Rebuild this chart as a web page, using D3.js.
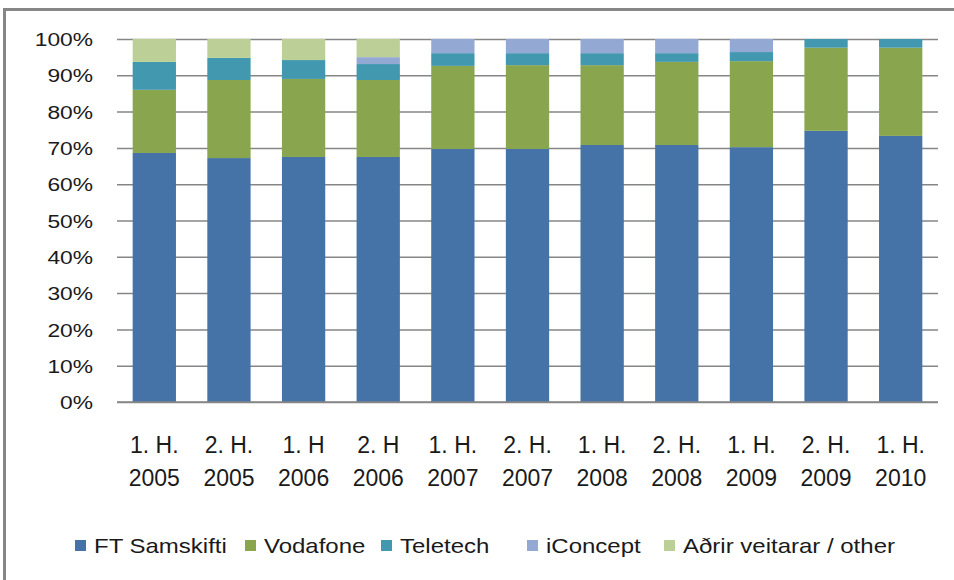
<!DOCTYPE html>
<html>
<head>
<meta charset="utf-8">
<script src="https://cdn.jsdelivr.net/npm/d3@7"></script>
<style>
  body { margin: 0; background: #fff; }
  text { font-family: "Liberation Sans", Arial, sans-serif; fill: #1a1a1a; }
</style>
</head>
<body>
<div class="chart"></div>
<script>
// periods (two-line labels)
const periods = ["1. H.|2005", "2. H.|2005", "1. H|2006", "2. H|2006", "1. H.|2007", "2. H.|2007",
                 "1. H.|2008", "2. H.|2008", "1. H.|2009", "2. H.|2009", "1. H.|2010"];

const seriesNames = ["FT Samskifti", "Vodafone", "Teletech", "iConcept", "Aðrir veitarar / other"];

// shares in %
const ftSamskifti = [68.6, 67.2, 67.5, 67.5, 69.7, 69.7, 70.8, 70.8, 70.2, 74.7, 73.3];
const vodafone    = [17.4, 21.5, 21.5, 21.2, 22.9, 23.1, 22.0, 22.9, 23.7, 22.9, 24.3];
const teletech    = [ 7.7,  6.1,  5.2,  4.4,  3.5,  3.3,  3.3,  2.4,  2.5,  2.4,  2.4];
const iConcept    = [ 0.0,  0.0,  0.0,  1.9,  3.9,  3.9,  3.9,  3.9,  3.6,  0.0,  0.0];
const other       = [ 6.3,  5.2,  5.8,  5.0,  0.0,  0.0,  0.0,  0.0,  0.0,  0.0,  0.0];

const yTicks = [0, 10, 20, 30, 40, 50, 60, 70, 80, 90, 100];

const colors = ["#4572a7", "#89a54e", "#4198af", "#93a9d4", "#bbcf97"];

const W = 954, H = 580;
const margin = {top: 39, left: 117, right: 16, bottom: 178};
const width = W - margin.left - margin.right,
      height = H - margin.top - margin.bottom;

const rows = periods.map((p, i) => ({
  period: p,
  s0: ftSamskifti[i], s1: vodafone[i], s2: teletech[i], s3: iConcept[i], s4: other[i]
}));

const svg = d3.select(".chart").append("svg")
  .attr("width", W)
  .attr("height", H);

// outer frame
svg.append("rect")
  .attr("x", 4.5).attr("y", 9.5)
  .attr("width", W + 20).attr("height", H + 20)
  .attr("fill", "none")
  .attr("stroke", "#868686")
  .attr("stroke-width", 3);

const g = svg.append("g")
  .attr("transform", "translate(" + margin.left + "," + margin.top + ")");

const xScale = d3.scaleBand()
  .domain(periods)
  .range([0, width])
  .paddingInner(0.42)
  .paddingOuter(0.21);

const yScale = d3.scaleLinear()
  .domain([0, 100])
  .range([height, 0]);

// gridlines + left ticks
const yAxis = d3.axisLeft(yScale)
  .tickValues(yTicks)
  .tickSize(-width)
  .tickFormat(d => d + "%");

const yG = g.append("g").attr("class", "axis y-axis").call(yAxis);
yG.select(".domain").remove();
yG.selectAll(".tick line")
  .attr("stroke", "#868686")
  .attr("stroke-width", 1.5)
  .attr("x1", 0);
yG.selectAll(".tick text")
  .attr("x", 0).attr("dy", "0.35em")
  .attr("text-anchor", "end")
  .attr("transform", "translate(-24,0) scale(1.2,1)")
  .style("font-size", "19px");

// stacked bars
const keys = ["s0", "s1", "s2", "s3", "s4"];
const stack = d3.stack().keys(keys)(rows);

g.selectAll(".layer")
  .data(stack)
  .enter()
  .append("g")
  .attr("class", "layer")
  .attr("fill", (d, i) => colors[i])
  .selectAll("rect")
  .data(d => d)
  .enter()
  .append("rect")
  .attr("x", d => xScale(d.data.period))
  .attr("width", xScale.bandwidth())
  .attr("y", d => yScale(d[1]))
  .attr("height", d => yScale(d[0]) - yScale(d[1]));

// baseline
g.append("line")
  .attr("x1", 0).attr("x2", width)
  .attr("y1", height).attr("y2", height)
  .attr("stroke", "#868686")
  .attr("stroke-width", 1.5);

// x labels (two lines)
const xG = g.append("g").attr("class", "axis x-axis")
  .attr("transform", "translate(0," + height + ")")
  .call(d3.axisBottom(xScale).tickSize(0).tickFormat(""));
xG.select(".domain").remove();
xG.selectAll(".tick").each(function(d) {
  const parts = d.split("|");
  const t = d3.select(this).append("text")
    .attr("text-anchor", "middle")
    .style("font-size", "23px");
  t.append("tspan").attr("x", 0).attr("y", 51).text(parts[0]);
  t.append("tspan").attr("x", 0).attr("y", 84).text(parts[1]);
});

// legend
const legendX = [75, 245, 381, 527, 664];
const legend = svg.append("g").attr("class", "legend");
seriesNames.forEach((name, i) => {
  const item = legend.append("g").attr("transform", "translate(" + legendX[i] + ",0)");
  item.append("rect")
    .attr("x", 0).attr("y", 540)
    .attr("width", 11).attr("height", 11)
    .attr("fill", colors[i]);
  item.append("text")
    .attr("x", 0).attr("y", 553)
    .attr("transform", "translate(19,0) scale(1.2,1)")
    .style("font-size", "20px")
    .text(name);
});
</script>
</body>
</html>
